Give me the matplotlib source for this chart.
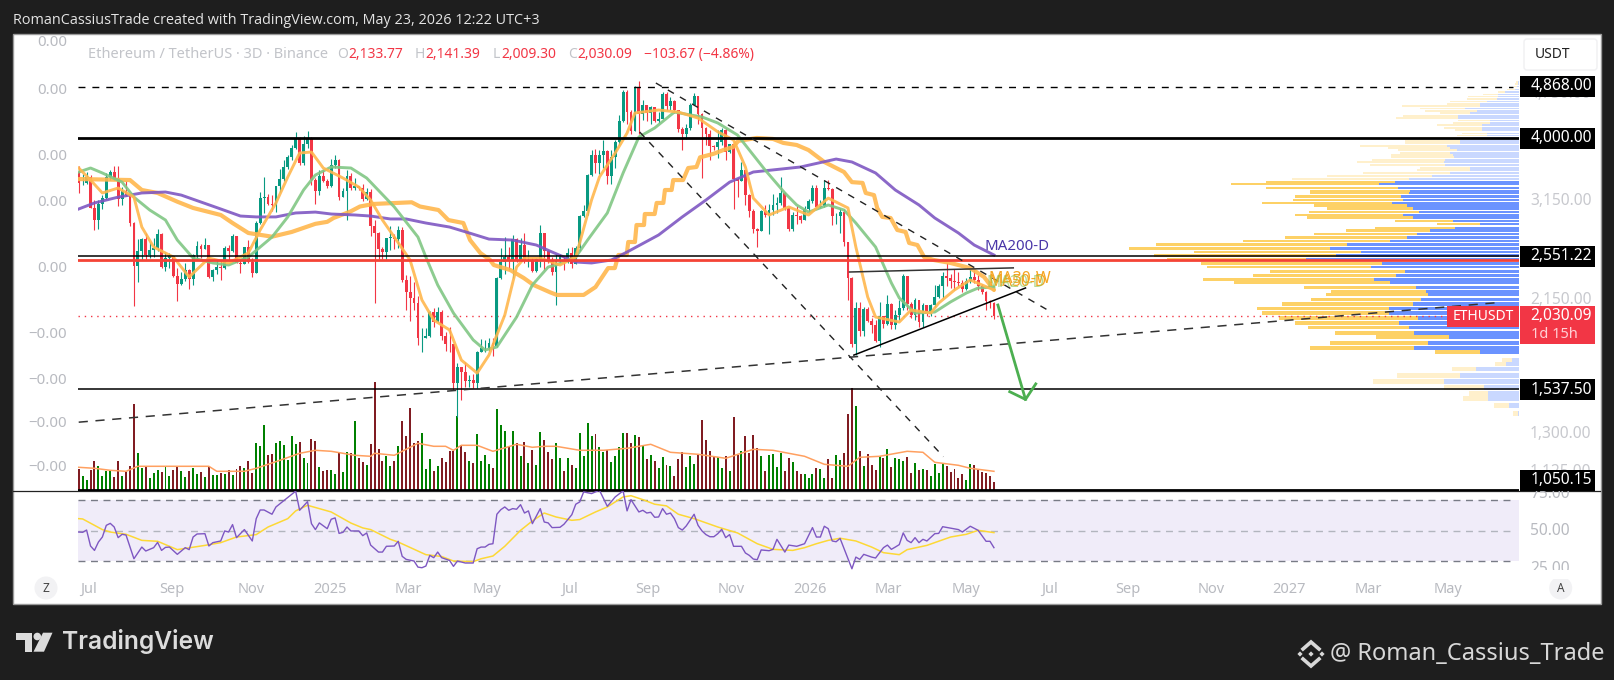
import matplotlib
matplotlib.use("Agg")
import matplotlib.pyplot as plt
from matplotlib.patches import Rectangle, Polygon, Circle, FancyBboxPatch
import numpy as np

plt.rcParams['font.family'] = ['Noto Sans', 'DejaVu Sans']

W, H = 1614, 680

# 3D candles, newest last
closes = [3370,3370,3455,3064,2930,3115,3182,3455,3520,3435,
          3175,3272,3222,2900,2460,2604,2725,2565,2614,2631,
          2778,2447,2532,2555,2367,2297,2340,2422,2340,2565,
          2654,2624,2664,2358,2422,2453,2444,2631,2604,2757,
          2490,2478,2647,2500,2398,2895,3182,3195,3120,3102,
          3335,3425,3585,3720,3860,4000,3640,3915,4000,3412,
          3276,3470,3400,3335,3610,3682,3200,3276,3470,3305,
          3335,3310,3175,3265,2860,2790,2625,2597,2733,2745,
          2725,2821,2332,2225,2180,2136,1870,1870,1885,2065,
          1985,2065,1885,1830,1825,1575,1675,1640,1588,1593,
          1575,1775,1800,1800,1835,1815,2350,2500,2545,2505,
          2722,2505,2664,2505,2516,2415,2523,2790,2600,2516,
          2400,2516,2548,2532,2581,2478,2631,2975,3035,3480,
          3760,3640,3750,3810,3470,3720,3945,4265,4770,4420,
          4105,4845,4380,4540,4410,4510,4270,4310,4740,4520,
          4610,4455,4145,4060,4160,4540,4690,4380,4160,4060,
          3880,3865,3945,4130,3790,3915,3425,3400,3545,3222,
          3035,2835,2810,3035,2990,3045,3100,3125,3250,3065,
          2832,2990,2975,2930,3050,3150,3310,3075,3090,3310,
          3300,2975,2975,3025,2700,2350,1825,2095,1920,2085,
          1995,1965,1850,2030,1970,2130,1965,2040,2095,2365,
          2130,2040,2160,1985,2120,2045,2120,2185,2275,2365,
          2350,2320,2315,2305,2250,2320,2358,2332,2275,2225,
          2150,2134,2030.09]
first_open = 3515
highs = [3600,3495,3520,3480,3162,3162,3222,3505,3545,3600,
         3600,3320,3400,3240,2910,2725,2733,2790,2698,2733,
         2832,2790,2597,2581,2555,2438,2405,2487,2428,2573,
         2705,2674,2733,2664,2431,2516,2516,2657,2664,2780,
         2757,2516,2647,2715,2532,2920,3265,3455,3240,3222,
         3335,3560,3682,3752,3900,4100,4015,4040,4110,4015,
         3435,3545,3545,3425,3695,3752,3700,3310,3545,3500,
         3435,3335,3360,3310,3295,2930,2800,2640,2733,2860,
         2780,2860,2850,2375,2367,2315,2190,1945,1945,2075,
         2095,2105,2080,1910,1950,1830,1700,1675,1705,1625,
         1630,1780,1865,1856,1870,1870,2360,2630,2745,2640,
         2770,2733,2733,2790,2614,2532,2532,2880,2790,2614,
         2548,2575,2573,2548,2631,2640,2654,2985,3100,3495,
         3825,3840,3825,3975,3825,3825,3975,4370,4807,4807,
         4455,4880,4975,4627,4530,4530,4510,4420,4770,4770,
         4685,4627,4455,4180,4230,4580,4760,4700,4410,4180,
         4130,3900,4130,4160,4160,3915,3915,3435,3660,3545,
         3240,3050,2845,3045,3100,3115,3240,3200,3455,3260,
         3075,3025,3090,2990,3090,3175,3345,3345,3162,3412,
         3412,3310,3015,3065,3050,2700,2360,2145,2145,2105,
         2105,2015,2002,2145,2030,2205,2140,2080,2160,2390,
         2365,2145,2180,2145,2135,2120,2130,2285,2295,2400,
         2485,2390,2430,2400,2330,2350,2430,2422,2375,2295,
         2235,2160,2141.39]
lows = [3252,3350,3360,3070,2821,2832,3055,3175,3412,3412,
        3090,3102,3215,2860,2112,2315,2516,2523,2532,2548,
        2604,2438,2415,2438,2360,2155,2285,2325,2250,2285,
        2516,2532,2624,2350,2320,2385,2332,2431,2516,2597,
        2487,2395,2487,2487,2358,2395,2890,3015,3102,3032,
        3025,3265,3400,3560,3682,3840,3620,3610,3850,3350,
        3115,3222,3385,3305,3322,3570,3162,3195,2930,3285,
        3285,3285,3150,3160,2757,2135,2530,2530,2523,2614,
        2625,2631,2315,2080,1995,2080,1820,1770,1870,1875,
        1950,1985,1856,1780,1770,1534,1384,1477,1550,1550,
        1545,1545,1770,1770,1780,1745,1810,2340,2390,2422,
        2350,2500,2530,2487,2447,2405,2405,2447,2422,2487,
        2380,2120,2487,2422,2487,2440,2487,2604,2960,2990,
        3470,3505,3495,3570,3365,3365,3570,3900,4250,4230,
        4060,4105,4060,4288,4265,4230,4250,4240,4310,4455,
        4455,4410,4100,3825,3990,4130,4540,4230,3440,3900,
        3680,3825,3715,3900,3680,3780,3060,3200,3400,3102,
        2960,2790,2640,2810,2960,2780,2990,3010,3100,3045,
        2810,2810,2890,2900,2930,3015,3125,3050,3065,3075,
        3285,2880,2890,2790,2655,2160,1810,1755,1885,1885,
        1985,1905,1845,1810,1940,1965,1935,1935,2002,2080,
        2080,2020,2002,1950,1950,2030,2030,2105,2180,2180,
        2275,2265,2245,2275,2225,2245,2305,2305,2245,2215,
        2080,2095,2009.30]
volumes = [22,15,11,21,30,25,15,20,20,14,
           30,15,19,25,87,38,23,25,13,18,
           21,19,25,15,21,25,20,14,20,23,
           17,19,14,24,16,16,18,17,21,16,
           22,25,23,30,18,48,45,66,36,37,
           48,50,46,31,55,47,49,33,28,52,
           50,24,20,21,21,17,39,19,39,38,
           70,33,29,26,47,109,42,30,35,25,
           30,45,70,55,83,48,50,58,22,32,
           20,25,33,29,40,40,75,46,39,30,
           28,57,30,36,27,23,82,66,60,44,
           60,48,35,49,28,41,26,59,51,39,
           32,48,33,20,33,26,23,58,35,68,
           55,57,44,39,41,29,35,44,58,58,
           48,56,54,45,32,36,30,23,34,26,
           25,15,32,39,24,35,27,36,71,51,
           40,35,34,23,35,20,74,36,40,55,
           38,56,43,35,20,36,37,24,38,20,
           33,29,20,17,17,13,17,23,22,13,
           32,13,36,31,38,77,103,85,40,25,
           37,26,21,35,33,42,24,33,32,30,
           34,18,28,21,22,21,15,27,18,28,
           25,19,22,13,17,11,27,26,21,19,
           18,15,9]

# moving averages, read at the bars where they bend
ma_week_bars = [0,13,16,20,25,29,36,39,43,49,54,60,63,64.6,68.8,71.3,74.7,84.4,86.5,91.2,93.7,97.5,99.2,101.8,104.3,105.2,109.4,112.8,115.3,119.5,121.2,128,131,134.2,135.9,136.8,138.9,139.3,141,141.4,143.3,143.5,146,146.5,148.2,148.6,150.3,150.7,153.2,154.5,156.6,157.5,160.9,163.4,165.9,167.2,171.9,176,178.6,182,185,189,194,196,198.7,199.5,201.6,202.4,203.7,205.8,207.5,209.6,210.5,212.6,214.3,216.8,221,226,229.5,232]
ma_week = [3425,3412,3285,3248,3142,3068,2987,2897,2789,2750,2800,2888,2910,2953,3025,3085,3115,3135,3085,3044,2930,2897,2715,2585,2516,2469,2422,2350,2288,2225,2203,2203,2270,2440,2440,2565,2565,2695,2695,2875,2875,2998,2998,3127,3127,3285,3285,3412,3412,3572,3586,3720,3770,3825,3870,3960,4005,3990,3930,3899,3825,3655,3518,3385,3375,3248,3222,3068,2965,2953,2821,2800,2685,2664,2545,2516,2488,2440,2359,2245]
ma200_bars = [0,4,10,16,22,26,31,36,41,45,50,55,60,64,70,74,79,83,88,94,99,104,110,116,120,126,130,135,139,147,153,159,165,171,183,192,196,202,207,213,217,223,227,232]
ma200 = [3056,3127,3197,3248,3260,3222,3138,3056,2975,2965,2965,3010,3020,2998,2987,2975,2942,2942,2897,2853,2789,2725,2715,2664,2594,2497,2488,2516,2594,2768,2965,3162,3385,3518,3586,3696,3655,3505,3285,3103,2953,2789,2664,2565]
ma_green_bars = [0,3,6,11,14,18,22,25,29,34,38,43,49,53,57,60,64,69,73,80,86,88,91,95,100,103,106,111,115,119,121,124,126,129,134,138,142,146,151,158,162,167,170,174,179,182,185,190,194,197,202,206,208,212,217,221,225,228,232]
ma_green = [3518,3572,3505,3385,3197,3044,2930,2715,2535,2488,2469,2545,2746,2965,3285,3478,3586,3572,3438,3080,2746,2545,2288,2056,1856,1786,1807,2025,2288,2450,2469,2516,2545,2715,3010,3505,4020,4160,4420,4338,4240,4050,3825,3545,3248,3103,3020,3103,3044,2897,2644,2306,2178,2056,2064,2145,2219,2262,2270]
ma_orange_bars = [0,3,6,10,14,16,19,24,28,33,38,43,46,50,53,56,59,62,67,71,74,77,80,84,87,90,94,97,101,104,106,108,110,111,113,117,122,126,130,132,136,139,141,147,152,157,162,166,169,171,175,180,185,190,195,197,200,202,208,211,216,218,222,226,232]
ma_orange = [3572,3412,3248,3310,3197,2853,2644,2545,2359,2535,2488,2585,2821,3127,3452,3782,3796,3572,3438,3323,3162,2930,2746,2516,2161,2002,1928,1719,1636,1752,1892,2040,2306,2450,2535,2535,2469,2545,3162,3452,3782,4080,4405,4455,4420,4320,4100,3974,3586,3185,2987,3080,2987,3185,3068,2644,2186,2025,1987,2080,2056,2136,2245,2332,2245]
vol_ma_bars = [0,4,8,12,15,20,33,35,42,45,51,56,60,64,70,74,75,80,86,90,93,95,97,101,105,111,115,118,121,127,133,139,145,150,157,164,171,176,184,189,195,198,203,210,214,217,223,226,232]
vol_ma = [24,23,21,20,25,25,25,20,20,23,31,38,41,40,36,35,38,36,48,45,45,41,46,46,40,47,44,45,45,41,41,43,47,39,37,33,42,41,35,27,25,34,35,40,39,29,26,23,20]

# RSI pane
rsi_bars = [0,1,2,3,4,5,6,7,8,9,10,11,12,14,16,17,19,20,21,22,23,25,27,28,29,30,32,33,34,36,37,38,39,40,42,44,45,46,47,49,50,55,56,58,59,60,61,63,64,65,66,67,68,69,71,72,73,74,76,77,78,80,81,82,83,85,86,87,88,89,90,91,92,94,95,96,98,100,101,102,103,104,105,106,107,108,109,110,111,112,113,114,115,117,118,119,120,122,123,125,126,127,128,130,132,134,136,138,139,140,142,143,144,145,146,147,148,149,150,151,152,153,154,156,157,158,159,160,161,162,163,164,165,166,168,169,170,171,172,173,175,176,177,179,180,182,184,186,187,188,189,190,191,192,193,196,197,198,199,201,202,204,205,206,207,208,209,210,211,212,213,214,215,217,218,219,223,224,226,228,230,231,232]
rsi = [49.1,48.9,50.4,39.9,37.0,42.5,45.8,53.5,54.8,52.4,45.4,47.6,47.1,31.5,39.2,36.6,38.8,42.3,37.0,39.0,39.2,34.4,38.8,37.5,45.8,47.8,48.0,39.9,42.1,43.2,49.8,49.1,54.0,45.4,50.7,43.2,57.9,63.6,63.6,60.8,65.6,76.0,63.4,69.1,54.6,50.7,55.1,51.3,57.5,58.4,48.2,48.9,52.4,49.8,49.8,46.7,48.5,40.5,35.9,35.9,39.7,39.9,43.0,33.1,31.1,30.0,26.0,25.6,26.7,33.7,32.2,35.9,32.2,30.4,26.5,30.0,28.7,28.7,38.1,39.2,39.2,41.0,41.4,60.8,63.8,65.6,63.4,64.5,64.1,67.1,61.6,63.0,54.6,64.5,55.7,55.1,52.0,52.2,54.2,60.5,67.4,68.9,75.5,74.4,76.6,66.0,72.2,76.2,63.0,70.4,62.3,63.4,61.6,62.1,58.8,59.0,64.5,60.8,61.6,57.9,52.0,50.4,53.1,60.8,53.5,49.8,47.4,46.0,46.0,48.0,50.9,45.4,47.4,39.7,39.7,35.3,33.7,31.3,30.9,37.3,36.8,37.7,44.3,35.9,40.5,39.7,41.4,52.0,45.8,45.8,52.9,51.3,43.2,42.7,44.9,24.9,32.6,31.1,34.4,32.6,32.0,38.8,40.5,37.7,39.2,40.8,48.5,43.6,42.1,45.4,42.1,44.3,43.2,48.0,48.2,52.6,50.7,49.1,52.9,50.2,43.0,43.0,38.8]
rsi_ma_bars = [0,1,6,8,12,16,20,25,32,36,40,45,48,53,55,58,64,69,72,74,79,81,88,92,95,100,102,105,108,112,115,118,121,125,127,131,134,138,140,143,146,149,152,156,162,167,172,176,181,184,187,190,193,197,201,204,208,210,215,221,225,228,232]
rsi_ma = [57.9,57.7,50.7,49.1,47.6,43.6,43.0,37.5,40.3,42.1,45.8,47.4,52.4,57.9,63.0,66.7,62.3,55.0,51.8,50.7,44.3,42.5,34.2,33.0,30.0,29.6,31.5,33.3,39.7,50.2,56.4,61.6,59.0,56.8,57.3,62.3,65.6,72.2,73.0,70.4,67.4,66.3,60.8,57.9,52.4,48.5,41.4,37.7,37.0,38.8,41.4,43.6,45.0,43.2,39.2,35.5,34.2,37.5,40.3,45.8,47.6,50.2,48.7]

# volume profile rows, bottom to top
vp_price = [1404,1444,1483,1515,1550,1585,1622,1660,1695,1722,1770,1802,1835,1875,1905,1945,1980,2018,2058,2092,2128,2166,2205,2234,2270,2306,2340,2375,2412,2450,2482,2522,2558,2595,2632,2670,2707,2740,2778,2813,2845,2888,2922,2957,2990,3020,3060,3096,3130,3166,3205,3245,3276,3315,3360,3392,3425,3460,3500,3540,3576,3612,3650,3680,3720,3755,3785,3822,3855,3890,3925,3962,4010,4042,4075,4128,4158,4205,4240,4280,4320,4355,4400,4440,4480,4520,4560,4600,4650,4690,4730,4770,4820,4868,4920,4960]
vp_blue = [1,10,31,31,35,75,59,43,13,7,39,105,91,70,105,110,120,101,130,130,106,98,91,93,103,129,145,123,114,148,137,213,183,158,189,172,129,112,102,89,64,39,66,106,116,100,106,112,127,116,118,110,109,121,140,124,110,87,69,49,49,74,75,74,65,66,69,62,69,72,59,59,46,32,32,37,37,37,29,29,61,61,49,42,54,39,39,32,22,21,21,14,4,2,1,1]
vp_yellow = [5,15,25,19,40,71,63,24,11,10,45,104,98,73,79,101,104,139,127,132,131,110,102,95,112,156,171,143,135,164,181,139,182,167,201,191,147,122,103,84,80,43,58,106,108,110,86,93,130,110,106,99,100,132,148,129,117,105,87,53,50,75,87,73,63,62,50,59,62,87,55,55,54,30,25,27,38,45,37,32,62,55,30,52,45,78,33,37,30,30,15,7,8,3,3,2]
value_area = (1745, 3410)

# drawn levels and trend lines (bar, price)
solid_levels = [(4000, 2.0), (2551.22, 1.1), (1537.5, 1.1), (1050.15, 2.0)]
peak_level = 4868
red_level = 2519
last_price = 2030.09
rising_line = ([0, 359.5], [1357, 2139])
upper_fall = ([146.3, 246.5], [4937, 2064])
lower_fall = ([142.2, 219.2], [4097, 1190])
wedge_top = ([195.4, 236.9], [2404, 2442])
wedge_bottom = ([196.5, 240], [1752, 2262])
arrow_shaft = ([233, 240], [2120, 1480])
arrow_head = ([236, 240, 242.6], [1524, 1480, 1570])

month_bars = [2.6,23.7,43.7,63.7,83.5,103.5,124.3,144.3,165.3,185.4,205.2,225,246,266,287,306.8,327,347]
month_labels = ['Jul','Sep','Nov','2025','Mar','May','Jul','Sep','Nov','2026','Mar','May','Jul','Sep','Nov','2027','Mar','May']

UP, DOWN = '#089981', '#f23645'
BAR_PX = 3.945
PLOT_L, PLOT_R = 78, 1519
MAIN_T, MAIN_B = 34, 491.3
RSI_B = 570
XLIM = ((PLOT_L - 78.7) / BAR_PX, (PLOT_R - 78.7) / BAR_PX)
YLIM = (1043, 5950)


def px_axes(fig, left, top, right, bottom, z):
    ax = fig.add_axes([left / W, 1 - bottom / H, (right - left) / W, (bottom - top) / H], zorder=z)
    ax.patch.set_alpha(0)
    return ax


def draw_page(fig):
    ax = fig.add_axes([0, 0, 1, 1], zorder=0)
    ax.set_xlim(0, W)
    ax.set_ylim(H, 0)
    ax.axis('off')
    ax.add_patch(Rectangle((13, 34), 1587.5, 570, fc='white', ec='#9a9a9a', lw=1))
    ax.text(13, 20, 'RomanCassiusTrade created with TradingView.com, May 23, 2026 12:22 UTC+3',
            color='#e4e4e4', fontsize=10.35, family='Open Sans', va='center')
    ax.plot([13, 1600], [491.3, 491.3], color='#222222', lw=0.9)

    # left scale
    for y, label in [(43, '0.00'), (90, '0.00'), (156, '0.00'), (202.5, '0.00'), (268, '0.00'),
                     (334, '\u22120.00'), (381, '\u22120.00'), (423.5, '\u22120.00'), (467.5, '\u22120.00')]:
        ax.text(67, y, label, color='#b8bac0', fontsize=10.8, ha='right', va='center')

    # symbol line
    gray, red = '#c2c4c9', '#f23645'
    for x, s, c, size in [(88, 'Ethereum / TetherUS \u00b7 3D \u00b7 Binance', gray, 10.5), (337.5, 'O', gray, 10), (348, '2,133.77', red, 10),
                          (415, 'H', gray, 10), (425, '2,141.39', red, 10), (493, 'L', gray, 10), (501, '2,009.30', red, 10),
                          (568, 'C', gray, 10), (577, '2,030.09', red, 10), (644, '\u2212103.67 (\u22124.86%)', red, 10)]:
        ax.text(x, 54.5, s, color=c, fontsize=size, va='center')

    ax.text(1530, 201, '3,150.00', color='#c8c9ce', fontsize=11.2, va='center')
    ax.text(1530, 300.5, '2,150.00', color='#c8c9ce', fontsize=11.2, va='center')
    ax.text(1530, 433.7, '1,300.00', color='#c8c9ce', fontsize=11.2, va='center')
    ax.text(1530, 531, '50.00', color='#b8bac0', fontsize=11.2, va='center')

    ax.add_patch(Circle((46, 588), 11.5, fc='#f2f2f4', ec='none'))
    ax.text(46, 588, 'Z', color='#444444', fontsize=8.5, ha='center', va='center')
    ax.add_patch(Circle((1560.7, 588), 11.5, fc='#f2f2f4', ec='none'))
    ax.text(1560.7, 588, 'A', color='#444444', fontsize=8.5, ha='center', va='center')

    # footer
    logo = '#dcdcdc'
    ax.add_patch(Polygon([(15.7, 632.7), (32, 632.7), (32, 651.7), (24.5, 651.7), (24.5, 640), (15.7, 640)], fc=logo, ec='none'))
    ax.add_patch(Circle((37.3, 636.5), 3.8, fc=logo, ec='none'))
    ax.add_patch(Polygon([(43, 632.7), (52.5, 632.7), (44, 651.7), (33.5, 651.7)], fc=logo, ec='none'))
    ax.text(62, 642, 'TradingView', color=logo, fontsize=17.7, weight='semibold', family='Inter', va='center')
    ax.text(1330, 654.5, '@ Roman_Cassius_Trade', color='#d8d8d8', fontsize=17, va='center')
    cx, cy = 1311, 654
    for dx, dy in [(-11, 0), (11, 0), (0, 0)]:
        ax.add_patch(Polygon([(cx + dx - 2.6, cy + dy), (cx + dx, cy + dy - 2.6), (cx + dx + 2.6, cy + dy), (cx + dx, cy + dy + 2.6)], fc='#d8d8d8', ec='none'))
    ax.plot([cx - 8, cx, cx + 8], [cy - 5, cy - 12, cy - 5], color='#d8d8d8', lw=2.6, solid_joinstyle='miter')
    ax.plot([cx - 8, cx, cx + 8], [cy + 5, cy + 12, cy + 5], color='#d8d8d8', lw=2.6, solid_joinstyle='miter')


def draw_profile(fig):
    ax = px_axes(fig, PLOT_L, MAIN_T, PLOT_R, MAIN_B, 1)
    ax.set_yscale('log')
    ax.set_xlim(PLOT_R - PLOT_L, 0)
    ax.set_ylim(*YLIM)
    ax.axis('off')
    for price, blue, yellow in zip(vp_price, vp_blue, vp_yellow):
        inside = value_area[0] < price < value_area[1]
        ax.barh(price, blue, height=27, color='#6b93ff' if inside else '#c9d8ff', lw=0)
        ax.barh(price, yellow, left=blue, height=27, color='#fdd166' if inside else '#fff0cc', lw=0)


def draw_volume(fig, colors):
    ax = px_axes(fig, PLOT_L, MAIN_T, PLOT_R, MAIN_B, 2)
    ax.set_xlim(*XLIM)
    ax.set_ylim(0, MAIN_B - MAIN_T)
    ax.axis('off')
    ax.bar(range(len(volumes)), volumes, width=0.5, color=colors, lw=0)
    ax.plot(vol_ma_bars, vol_ma, color='#ffa060', lw=1.1)


def draw_price(fig, opens, up):
    ax = px_axes(fig, PLOT_L, MAIN_T, PLOT_R, MAIN_B, 3)
    ax.set_yscale('log')
    ax.set_xlim(*XLIM)
    ax.set_ylim(*YLIM)
    ax.axis('off')

    bars = np.arange(len(closes))
    hi = np.maximum(highs, np.maximum(opens, closes))
    lo = np.minimum(lows, np.minimum(opens, closes))
    colors = np.where(up, UP, DOWN)
    ax.vlines(bars, lo, hi, colors=colors, lw=0.8, zorder=3)
    ax.bar(bars, np.abs(np.array(closes) - opens), bottom=np.minimum(opens, closes), width=0.72, color=colors, lw=0, zorder=3)

    ax.plot(ma_week_bars, ma_week, color='#ffb74d', lw=3, alpha=0.9, zorder=4, solid_capstyle='round')
    ax.plot(ma200_bars, ma200, color='#7e57c2', lw=2.1, alpha=0.9, zorder=4)
    ax.plot(ma_green_bars, ma_green, color='#81c784', lw=2.1, alpha=0.9, zorder=4)
    ax.plot(ma_orange_bars, ma_orange, color='#ffb74d', lw=2.1, alpha=0.9, zorder=4)

    for level, lw in solid_levels:
        ax.axhline(level, color='black', lw=lw, zorder=5)
    ax.axhline(red_level, color='#f44336', lw=2, zorder=5)
    ax.plot([XLIM[0], XLIM[1] - 1.5], [peak_level, peak_level], color='black', lw=1, ls=(0, (5, 5)), zorder=5)
    ax.axhline(last_price, color=DOWN, lw=1, ls=(0, (1, 3.5)), zorder=2)

    for xs, ys in (upper_fall, lower_fall):
        ax.plot(xs, ys, color='#222222', lw=1, ls=(0, (5, 5)), zorder=5)
    ax.plot(*rising_line, color='#333333', lw=1.1, ls=(0, (6, 5)), zorder=5)
    ax.plot(wedge_top[0], wedge_top[1], color='#333333', lw=1.1, zorder=5)
    ax.plot(wedge_bottom[0], wedge_bottom[1], color='black', lw=1.1, zorder=5)
    ax.plot(*arrow_shaft, color='#4caf50', lw=2, zorder=6)
    ax.plot(*arrow_head, color='#4caf50', lw=2, zorder=6)

    # line labels sit on top of each other in the source chart too
    for x, y, label, color, size, alpha in [(985, 247, 'MA200-D', '#4a36a8', 10.8, 1),
                                            (988, 279, 'MA30-W', '#f5a623', 11.5, 1),
                                            (988, 282, 'MA50-D', '#f5a623', 11.2, 1),
                                            (986, 283, 'MA20-D', '#8bc34a', 11.2, 0.6)]:
        ax.annotate(label, (1, 1), xycoords='axes fraction', xytext=(x, H - y), textcoords='figure pixels',
                    color=color, fontsize=size, va='center', alpha=alpha, zorder=7)


def draw_rsi(fig):
    ax = px_axes(fig, PLOT_L, MAIN_B, PLOT_R, RSI_B, 3)
    ax.set_xlim(*XLIM)
    ax.set_ylim(24.1, 75.9)
    ax.axhspan(30, 70, color='#f0ecf9', lw=0, zorder=0)
    for level, shade in [(70, '#787b86'), (50, '#b2b5be'), (30, '#787b86')]:
        ax.plot([XLIM[0], XLIM[1] - 1.5], [level, level], color=shade, lw=1, ls=(0, (5, 4)), zorder=1)
    ax.plot(rsi_ma_bars, rsi_ma, color='#fdd835', lw=1.1, zorder=2)
    ax.plot(rsi_bars, rsi, color='#7e57c2', lw=1, zorder=3)
    for side in ax.spines.values():
        side.set_visible(False)
    ax.set_yticks([])
    ax.set_xticks(month_bars)
    ax.set_xticklabels(month_labels, fontsize=10.5, color='#b8bac0')
    ax.tick_params(axis='x', length=0, pad=8.5)
    for label in ax.get_xticklabels():
        if label.get_text().isdigit():
            label.set_fontweight('bold')


def draw_tags(fig):
    ax = fig.add_axes([0, 0, 1, 1], zorder=6)
    ax.set_xlim(0, W)
    ax.set_ylim(H, 0)
    ax.axis('off')
    ax.patch.set_alpha(0)

    # scale labels that the tags and pane edges partly hide, so below the patches
    ax.text(1530, 93.5, '4,750.00', color='#c8c9ce', fontsize=11.2, va='center', zorder=0.5)
    ax.text(1530, 472, '1,125.00', color='#c8c9ce', fontsize=11.2, va='center', zorder=0.5)
    ax.text(1530, 494, '75.00', color='#b8bac0', fontsize=11.2, va='center', zorder=0.5)
    ax.text(1530, 569, '25.00', color='#b8bac0', fontsize=11.2, va='center', zorder=0.5)
    ax.add_patch(Rectangle((1520, 569.5), 75, 9, fc='white', ec='none'))

    ax.add_patch(FancyBboxPatch((1526, 41), 69, 27, boxstyle='round,pad=2,rounding_size=3', fc='white', ec='#f0f0f2', lw=1))
    ax.text(1535, 55, 'USDT', color='#222222', fontsize=10, va='center')

    for top, label in [(76, '4,868.00'), (128, '4,000.00'), (246, '2,551.22'), (379, '1,537.50'), (470, '1,050.15')]:
        ax.add_patch(Rectangle((1520, top), 75, 20.7, fc='black', ec='none'))
        ax.text(1530.5, top + 10.5, label, color='white', fontsize=11.2, va='center')
    ax.add_patch(Rectangle((1520, 306), 75, 38, fc=DOWN, ec='none'))
    ax.text(1530.5, 316.5, '2,030.09', color='white', fontsize=11.2, va='center')
    ax.text(1531, 334, '1d 15h', color='#ffd0d5', fontsize=10.5, va='center')
    ax.add_patch(Rectangle((1447, 306), 72, 20.5, fc=DOWN, ec='none'))
    ax.text(1453, 316, 'ETHUSDT', color='white', fontsize=10, va='center')


def main():
    opens = np.array([first_open] + closes[:-1], dtype=float)
    up = np.array(closes) >= opens
    vol_colors = np.where(up, '#008000', '#801c22')

    fig = plt.figure(figsize=(W / 100, H / 100), dpi=100, facecolor='#1e1e1e')
    draw_page(fig)
    draw_profile(fig)
    draw_volume(fig, vol_colors)
    draw_price(fig, opens, up)
    draw_rsi(fig)
    draw_tags(fig)
    fig.savefig('out.png', dpi=100, facecolor=fig.get_facecolor())


if __name__ == "__main__":
    main()
